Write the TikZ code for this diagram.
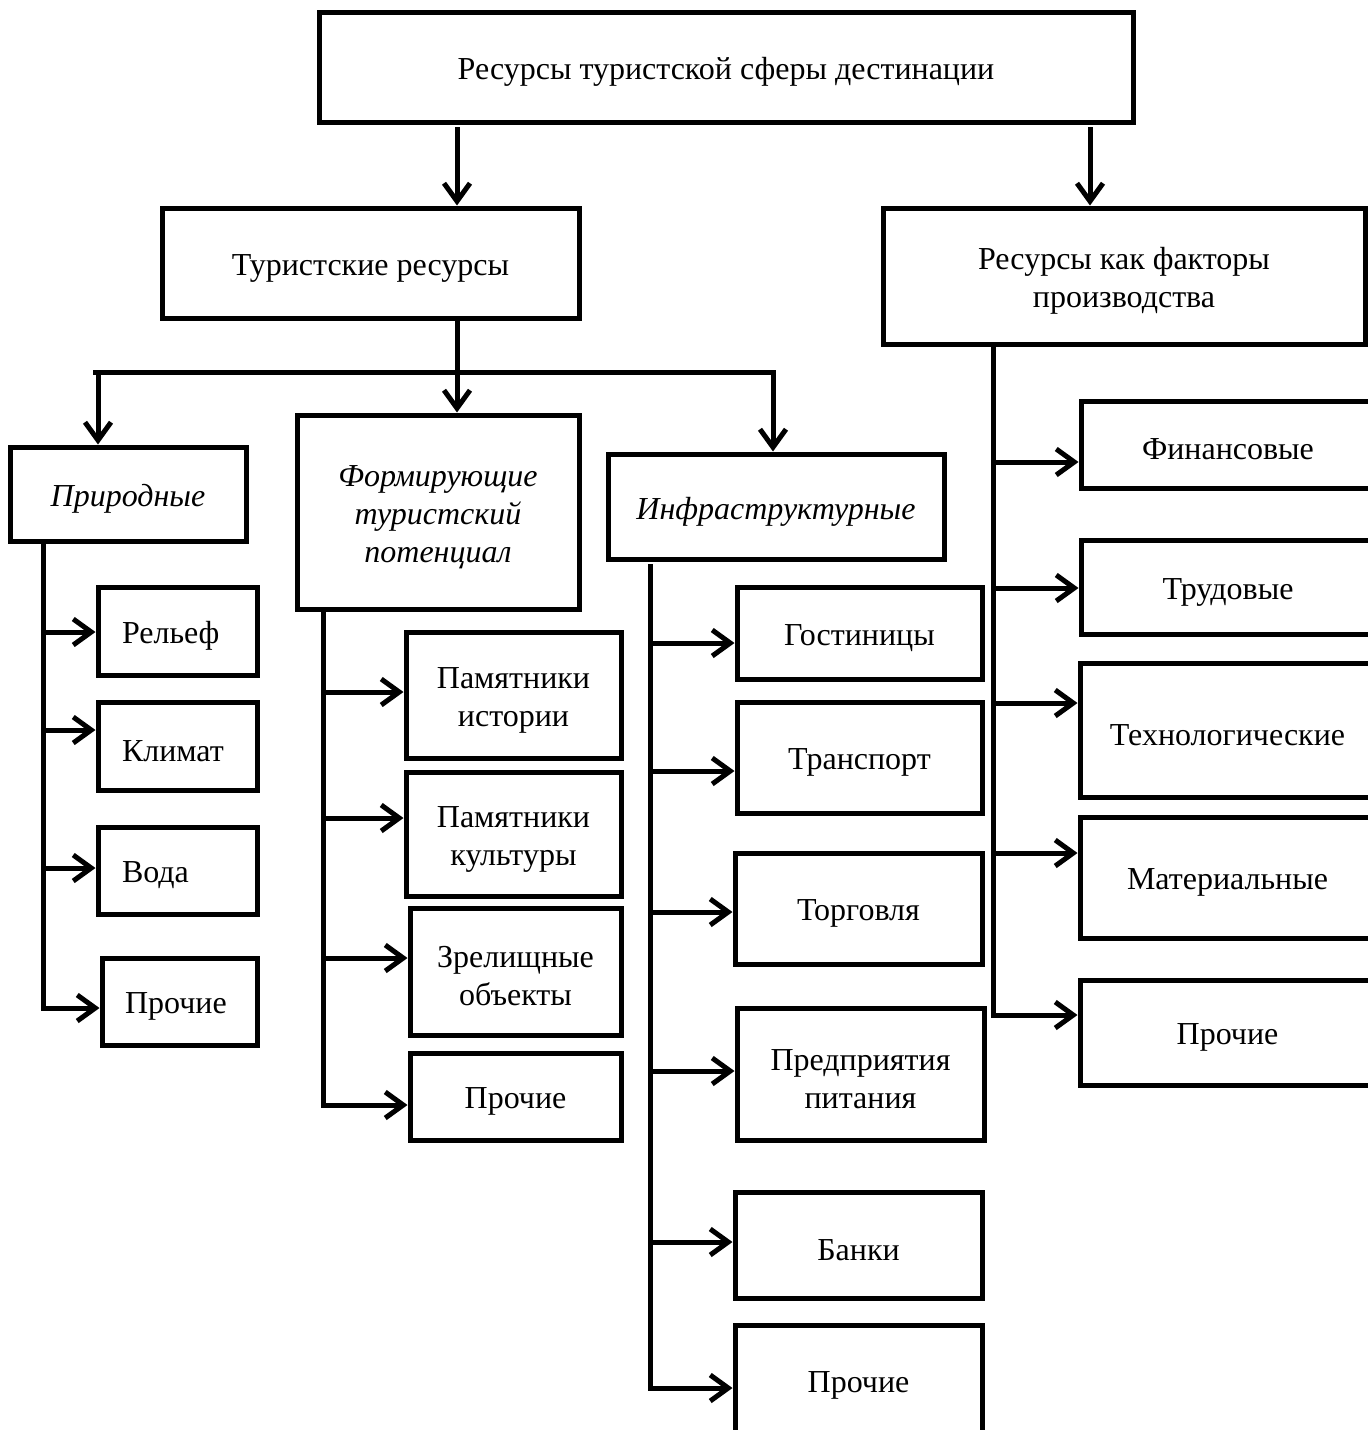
\documentclass[tikz,border=0pt]{standalone}
\usepackage{fontspec}
\setmainfont{Liberation Serif}
\usetikzlibrary{arrows.meta,calc}
\begin{document}
\begin{tikzpicture}[x=0.5pt,y=-0.5pt,
  bx/.style={draw, line width=2.5pt, rectangle, inner sep=0pt},
  txt/.style={inner sep=0pt, align=center, font=\fontsize{16}{19}\selectfont},
  itl/.style={font=\fontsize{16}{19}\selectfont\itshape},
  lft/.style={text width=111*0.5pt, align=left},
  arr/.style={line width=2.5pt, -{Straight Barb[length=9pt,width=13pt]}},
  ln/.style={line width=2.5pt, line cap=rect}]
\useasboundingbox (0,0) rectangle (1367,1430);
\newcommand\mybox[7]{%
  \node[bx,minimum width=#4*0.5pt,minimum height=#5*0.5pt] (#1) at (#2,#3) {};
  \node[txt,#6] (#1-t) at ([yshift=-2.5pt]#1.center) {#7};}
% level 0-1
\mybox{top}{726}{67}{814}{110}{}{Ресурсы туристской сферы дестинации}
\mybox{tur}{370.5}{263}{417}{110}{}{Туристские ресурсы}
\mybox{fac}{1124}{276}{482}{136}{}{Ресурсы как факторы\\производства}
% level 2
\mybox{prir}{128}{494}{236}{94}{itl}{Природные}
\mybox{form}{438}{512}{282}{194}{itl}{Формирующие\\туристский\\потенциал}
\mybox{infra}{776}{506.5}{336}{105}{itl}{Инфраструктурные}
% left column
\mybox{rel}{177.5}{631}{159}{88}{lft}{Рельеф}
\mybox{klim}{177.5}{746}{159}{88}{lft}{Климат}
\mybox{voda}{177.5}{870.5}{159}{87}{lft}{Вода}
\mybox{pa}{179.5}{1001.5}{155}{87}{text width=109*0.5pt,align=left}{Прочие}
% second column
\mybox{pist}{513.5}{695}{215}{126}{}{Памятники\\истории}
\mybox{pkul}{513.5}{834}{215}{124}{}{Памятники\\культуры}
\mybox{zrel}{515.5}{971.5}{211}{127}{}{Зрелищные\\объекты}
\mybox{pb}{515.5}{1096.5}{211}{87}{}{Прочие}
% third column
\mybox{gost}{859.5}{633}{245}{92}{}{Гостиницы}
\mybox{trans}{859.5}{757.5}{245}{111}{}{Транспорт}
\mybox{torg}{858.5}{908.5}{247}{111}{}{Торговля}
\mybox{pred}{860.5}{1074}{247}{132}{}{Предприятия\\питания}
\mybox{bank}{858.5}{1245}{247}{106}{}{Банки}
\mybox{pc}{858.5}{1380.5}{247}{111}{}{Прочие}
% right column
\mybox{fin}{1228}{444.5}{294}{87}{}{Финансовые}
\mybox{trud}{1228}{587}{294}{94}{}{Трудовые}
\mybox{tech}{1227.5}{730}{295}{134}{}{Технологические}
\mybox{mat}{1227.5}{877.5}{295}{121}{}{Материальные}
\mybox{pd}{1227.5}{1032.5}{295}{105}{}{Прочие}
% top arrows
\coordinate (k1) at (457,127);
\coordinate (k2) at (1090,127);
\draw[arr] (k1) -- (k1 |- tur.north);
\draw[arr] (k2) -- (k2 |- fac.north);
\coordinate (k3) at (457,318);
\draw[arr] (tur.south -| k3) -- (form.north -| k3);
% bar
\coordinate (bl) at (98,372);
\coordinate (br) at (773,372);
\coordinate (b0) at (95,372);
\draw[ln] (b0) -- (br);
\draw[arr] (bl) -- (bl |- prir.north);
\draw[arr] (br) -- (br |- infra.north);
% left trunk
\coordinate (lt) at (43,546);
\coordinate (l1) at (43,632);
\coordinate (l2) at (43,730);
\coordinate (l3) at (43,868);
\coordinate (l4) at (43,1008);
\draw[ln] (lt) -- (l4);
\draw[arr] (l1) -- (l1 -| rel.west);
\draw[arr] (l2) -- (l2 -| klim.west);
\draw[arr] (l3) -- (l3 -| voda.west);
\draw[arr] (l4) -- (l4 -| pa.west);
% second trunk
\coordinate (mt) at (323,610);
\coordinate (m1) at (323,692);
\coordinate (m2) at (323,818);
\coordinate (m3) at (323,958);
\coordinate (m4) at (323,1105);
\draw[ln] (mt) -- (m4);
\draw[arr] (m1) -- (m1 -| pist.west);
\draw[arr] (m2) -- (m2 -| pkul.west);
\draw[arr] (m3) -- (m3 -| zrel.west);
\draw[arr] (m4) -- (m4 -| pb.west);
% third trunk
\coordinate (it) at (650,566);
\coordinate (i1) at (650,643);
\coordinate (i2) at (650,771);
\coordinate (i3) at (650,912);
\coordinate (i4) at (650,1071);
\coordinate (i5) at (650,1242);
\coordinate (i6) at (650,1388);
\draw[ln] (it) -- (i6);
\draw[arr] (i1) -- (i1 -| gost.west);
\draw[arr] (i2) -- (i2 -| trans.west);
\draw[arr] (i3) -- (i3 -| torg.west);
\draw[arr] (i4) -- (i4 -| pred.west);
\draw[arr] (i5) -- (i5 -| bank.west);
\draw[arr] (i6) -- (i6 -| pc.west);
% right trunk
\coordinate (rt) at (993,346);
\coordinate (r1) at (993,462);
\coordinate (r2) at (993,588);
\coordinate (r3) at (993,703);
\coordinate (r4) at (993,853);
\coordinate (r5) at (993,1015);
\draw[ln] (rt) -- (r5);
\draw[arr] (r1) -- (r1 -| fin.west);
\draw[arr] (r2) -- (r2 -| trud.west);
\draw[arr] (r3) -- (r3 -| tech.west);
\draw[arr] (r4) -- (r4 -| mat.west);
\draw[arr] (r5) -- (r5 -| pd.west);
\end{tikzpicture}
\end{document}
